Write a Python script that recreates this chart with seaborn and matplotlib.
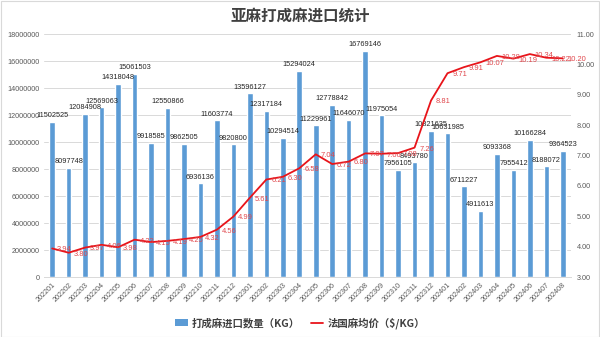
import numpy as np
import pandas as pd
import matplotlib
matplotlib.use("Agg")
import matplotlib.pyplot as plt
import seaborn as sns
from matplotlib.patches import Patch, Rectangle
from matplotlib.lines import Line2D

months = ["202201", "202202", "202203", "202204", "202205", "202206", "202207", "202208",
          "202209", "202210", "202211", "202212", "202301", "202302", "202303", "202304",
          "202305", "202306", "202307", "202308", "202309", "202310", "202311", "202312",
          "202401", "202402", "202403", "202404", "202405", "202406", "202407", "202408"]
import_kg = [11502525, 8097748, 12084908, 12569063, 14318048, 15061503, 9918585, 12550866,
             9862505, 6936136, 11603774, 9820800, 13596127, 12317184, 10294514, 15294024,
             11229961, 12778842, 11646070, 16769146, 11975054, 7956105, 8493780, 10821635,
             10631985, 6711227, 4911613, 9093368, 7955412, 10166284, 8188072, 9364523]
price = [3.94, 3.80, 3.97, 4.06, 3.98, 4.23, 4.15, 4.19, 4.25, 4.32, 4.56, 4.99,
         5.61, 6.21, 6.30, 6.58, 7.04, 6.72, 6.80, 7.07, 7.06, 7.08, 7.26, 8.81,
         9.71, 9.91, 10.07, 10.28, 10.19, 10.34, 10.22, 10.20]
left_ticks = [0, 2000000, 4000000, 6000000, 8000000, 10000000, 12000000, 14000000, 16000000, 18000000]
right_ticks = [3, 4, 5, 6, 7, 8, 9, 10, 11]

title = "亚麻打成麻进口统计"
bar_name = "打成麻进口数量（KG）"
line_name = "法国麻均价（$/KG）"

sns.set_theme(style="white")
plt.rcParams["font.family"] = ["Liberation Sans", "Noto Sans CJK SC", "DejaVu Sans"]

bar_color = "#5B9BD5"
line_color = "#E8141A"
label_red = "#E0474C"
text_gray = "#595959"

df = pd.DataFrame({"month": months, "kg": import_kg, "price": price})
df["pos"] = np.arange(len(df))

fig = plt.figure(figsize=(6.0, 3.37), dpi=100)
ax = fig.add_axes([0.0733, 0.178, 0.8784, 0.721])

sns.barplot(data=df, x="month", y="kg", color=bar_color, saturation=1, width=0.34, ax=ax)
ax.set_ylim(0, 18000000)
ax.set_yticks(left_ticks)
ax.set_yticklabels([str(t) for t in left_ticks], fontsize=5.2, color=text_gray)
ax.grid(axis="y", color="#D9D9D9", linewidth=0.7)
ax.set_axisbelow(True)
ax.set_xlabel("")
ax.set_ylabel("")
ax.set_xlim(-0.5, len(months) - 0.5)
for s in ax.spines.values():
    s.set_visible(False)
ax.spines["bottom"].set_visible(True)
ax.spines["bottom"].set_color("#D9D9D9")
ax.spines["bottom"].set_linewidth(0.7)
ax.tick_params(axis="both", length=0, pad=3)
ax.set_xticks(range(len(months)))
ax.set_xticklabels(months, rotation=45, ha="right", rotation_mode="anchor",
                   fontsize=5.2, color=text_gray)
ax.bar_label(ax.containers[0], labels=[str(v) for v in import_kg], padding=2,
             fontsize=5.3, color="#262626")

ax2 = ax.twinx()
sns.lineplot(data=df, x="pos", y="price", color=line_color, linewidth=1.3, ax=ax2,
             sort=False)
ax2.set_ylim(3, 11)
ax2.set_yticks(right_ticks)
ax2.set_yticklabels([f"{t:.2f}" for t in right_ticks], fontsize=5.2, color=text_gray)
ax2.set_xlim(-0.5, len(months) - 0.5)
ax2.set_ylabel("")
ax2.set_xlabel("")
ax2.tick_params(axis="both", length=0, pad=4)
for s in ax2.spines.values():
    s.set_visible(False)
for xp, v in zip(df["pos"], df["price"]):
    ax2.annotate(f"{v:.2f}", (xp, v), xytext=(3.5, -1), textcoords="offset points",
                 ha="left", va="center", fontsize=5.4, color=label_red)

fig.text(0.5, 0.955, title, ha="center", va="center", fontsize=11.2,
         fontweight="bold", color="#404040",
         family=["Noto Sans CJK SC", "DejaVu Sans"])

handles = [Patch(facecolor=bar_color, edgecolor="none"),
           Line2D([0], [0], color=line_color, linewidth=1.3)]
leg = fig.legend(handles, [bar_name, line_name], loc="center", bbox_to_anchor=(0.5, 0.042),
                 ncol=2, frameon=False, handlelength=1.2, handleheight=0.7,
                 columnspacing=1.0, handletextpad=0.4,
                 prop={"family": ["Noto Sans CJK SC", "DejaVu Sans"], "size": 7.5,
                       "weight": "bold"})
for t in leg.get_texts():
    t.set_color("#404040")

fig.patches.append(Rectangle((0.001, 0.001), 0.997, 0.996, transform=fig.transFigure,
                             fill=False, edgecolor="#D9D9D9", linewidth=0.8))

fig.savefig("out.png", dpi=100, facecolor="white")
